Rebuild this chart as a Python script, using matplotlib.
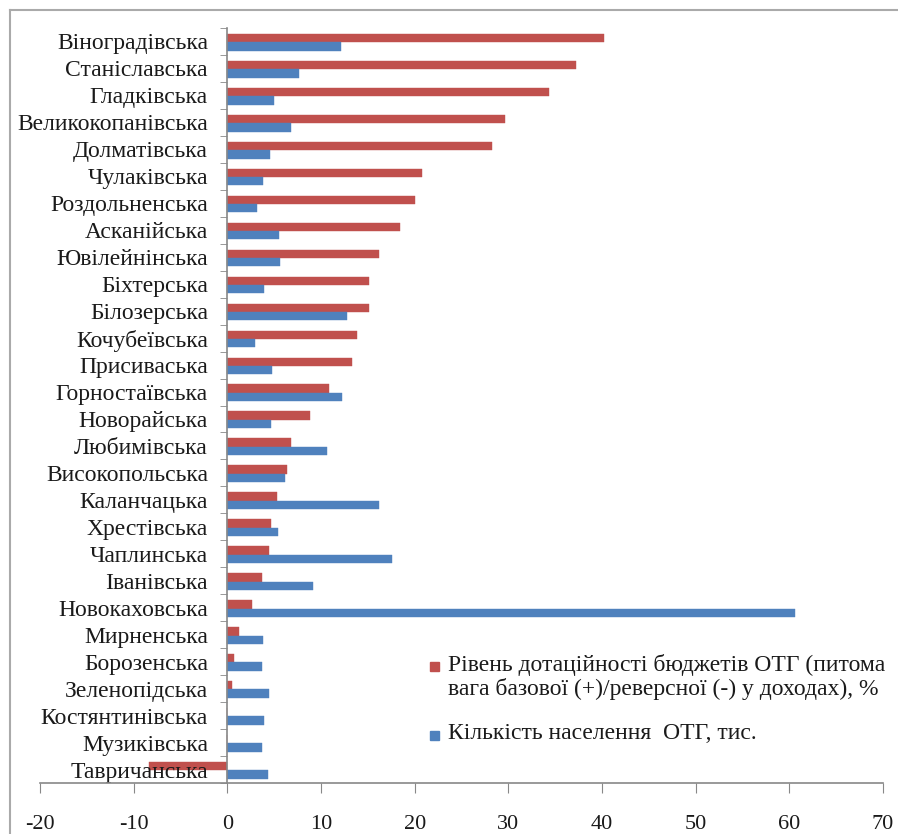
import numpy as np
import matplotlib
matplotlib.use("Agg")
import matplotlib.pyplot as plt
from matplotlib.lines import Line2D
from matplotlib.patches import Rectangle

plt.rcParams['font.family'] = ['Liberation Serif', 'DejaVu Serif']
plt.rcParams['axes.unicode_minus'] = False

communities = ['Віноградівська', 'Станіславська', 'Гладківська', 'Великокопанівська',
               'Долматівська', 'Чулаківська', 'Роздольненська', 'Асканійська',
               'Ювілейнінська', 'Біхтерська', 'Білозерська', 'Кочубеївська',
               'Присиваська', 'Горностаївська', 'Новорайська', 'Любимівська',
               'Високопольська', 'Каланчацька', 'Хрестівська', 'Чаплинська',
               'Іванівська', 'Новокаховська', 'Мирненська', 'Борозенська',
               'Зеленопідська', 'Костянтинівська', 'Музиківська', 'Тавричанська']

subsidy_level = [40.2, 37.2, 34.3, 29.6, 28.3, 20.8, 20.0, 18.4, 16.2, 15.1,
                 15.1, 13.8, 13.3, 10.9, 8.8, 6.8, 6.4, 5.3, 4.7, 4.4,
                 3.7, 2.6, 1.2, 0.7, 0.5, 0.0, 0.0, -8.4]

population = [12.1, 7.6, 5.0, 6.8, 4.6, 3.8, 3.2, 5.5, 5.6, 3.9,
              12.8, 3.0, 4.8, 12.2, 4.7, 10.6, 6.2, 16.2, 5.4, 17.6,
              9.1, 60.6, 3.8, 3.7, 4.4, 3.9, 3.7, 4.3]

red_label = 'Рівень дотаційності бюджетів ОТГ (питома\nвага базової (+)/реверсної (-) у доходах), %'
blue_label = 'Кількість населення  ОТГ, тис.'

red = '#C0504D'
blue = '#4F81BD'
W, H = 898, 834

fig = plt.figure(figsize=(W / 100, H / 100), dpi=100)
ax = fig.add_axes([40 / W, 1 - 783 / H, 843 / W, 755 / H])

y = np.arange(len(communities))
h = 0.31
ax.barh(y - 0.125, subsidy_level, height=h, color=red, edgecolor=red, linewidth=0.3)
ax.barh(y + 0.185, population, height=h, color=blue, edgecolor=blue, linewidth=0.3)

ax.set_xlim(-20, 70)
ax.set_ylim(len(communities) - 0.5, -0.5)
ax.set_xticks(np.arange(-20, 71, 10))

# category labels at centers, tick marks at boundaries
ax.set_yticks(y)
ax.set_yticklabels(communities)
ax.set_yticks(np.arange(-0.5, len(communities), 1), minor=True)
ax.tick_params(axis='y', which='major', length=0, pad=14, labelsize=17, labelcolor='#1a1a1a')
ax.tick_params(axis='y', which='minor', length=5, direction='out', color='#888888')
ax.tick_params(axis='x', length=7, direction='out', color='#888888', labelsize=16,
               pad=16, labelcolor='#1a1a1a')

ax.spines['left'].set_position(('data', 0))
ax.spines['right'].set_visible(False)
ax.spines['top'].set_visible(False)
for s in ['left', 'bottom']:
    ax.spines[s].set_color('#888888')
    ax.spines[s].set_linewidth(1.2)

# legend drawn by hand so the marker sits on the first text line
for color, label, ytop in [(red, red_label, 666), (blue, blue_label, 735)]:
    fig.add_artist(Rectangle((430 / W, 1 - (ytop + 4.5) / H), 9 / W, 9 / H,
                             transform=fig.transFigure, color=color))
    fig.text(448 / W, 1 - (ytop - 12) / H, label, fontsize=17, color='#1a1a1a',
             ha='left', va='top', linespacing=1.12)

# outer frame lines (top and left)
fig.add_artist(Line2D([10 / W, 1], [1 - 10 / H] * 2, transform=fig.transFigure,
                      color='#aaaaaa', linewidth=1.5))
fig.add_artist(Line2D([10 / W] * 2, [0, 1 - 10 / H], transform=fig.transFigure,
                      color='#aaaaaa', linewidth=1.5))

fig.savefig('out.png', dpi=100)
